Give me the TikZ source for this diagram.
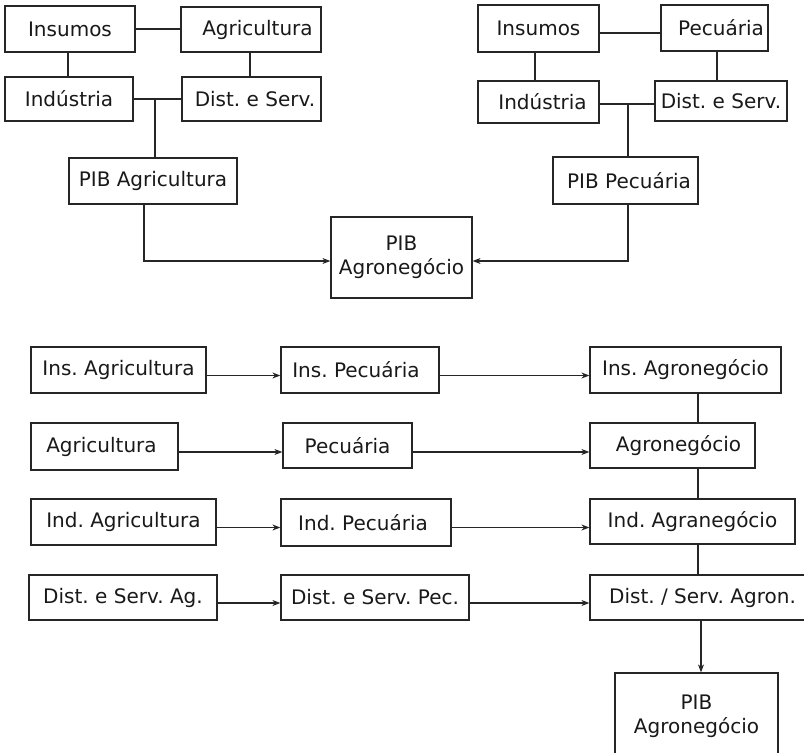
\documentclass[tikz,border=0pt]{standalone}
\usepackage{fontspec}
\setmainfont{DejaVu Sans}
\usetikzlibrary{arrows.meta}
\frenchspacing
\begin{document}
\begin{tikzpicture}[x=1pt,y=-1pt,
  box/.style={draw=black!85, line width=1.2pt, inner sep=0pt, rectangle,
    font=\fontsize{20}{24}\selectfont\frenchspacing, text=black!90, align=center},
  ln/.style={draw=black!85, line width=1.2pt},
  arr/.style={ln, -{Stealth[length=8pt,width=6pt]}}]
\useasboundingbox (0,0) rectangle (804,753);
\fill[white] (0,0) rectangle (804,753);
\clip (0,0) rectangle (804,753);
% top-left group
\node[box, minimum width=130pt, minimum height=46pt] (ins1) at (70,29) {Insumos};
\node[box, minimum width=140pt, minimum height=45pt] (agr1) at (251,29.5) {\kern13pt Agricultura};
\node[box, minimum width=128pt, minimum height=44pt] (ind1) at (69,99) {Indústria};
\node[box, minimum width=139pt, minimum height=44pt] (dist1) at (251.5,99) {\kern7pt Dist. e Serv.};
\node[box, minimum width=168pt, minimum height=46pt] (pibA) at (153,181) {PIB Agricultura};
\node[box, minimum width=141pt, minimum height=81pt] (pibAgro1) at (401.5,257.5) {PIB\\Agronegócio};
% top-right group
\node[box, minimum width=121pt, minimum height=47pt] (ins2) at (538.5,28.5) {Insumos};
\node[box, minimum width=107pt, minimum height=46pt] (pec2) at (714.5,28) {\kern13pt Pecuária};
\node[box, minimum width=121pt, minimum height=42pt] (ind2) at (538.5,102) {\kern8pt Indústria};
\node[box, minimum width=132pt, minimum height=40pt] (dist2) at (721,101) {Dist. e Serv.};
\node[box, minimum width=145pt, minimum height=47pt] (pibP) at (625.5,180.5) {\kern7pt PIB Pecuária};
% top connectors
\draw[ln] (ins1.east) -- (ins1.east -| agr1.west);
\draw[ln] ([xshift=-2pt]ins1.south) -- ([xshift=-2pt]ins1.south |- ind1.north);
\draw[ln] ([xshift=-1pt]agr1.south) -- ([xshift=-1pt]agr1.south |- dist1.north);
\draw[ln] (ind1.east) -- (ind1.east -| dist1.west);
\draw[ln] ([xshift=2pt]pibA.north |- ind1.east) -- ([xshift=2pt]pibA.north);
\draw[arr] ([xshift=-9pt]pibA.south) |- ([yshift=-3.5pt]pibAgro1.west);
\draw[ln] ([yshift=-4.5pt]ins2.east) -- ([yshift=-4.5pt]ins2.east -| pec2.west);
\draw[ln] ([xshift=-3.5pt]ins2.south) -- ([xshift=-3.5pt]ins2.south |- ind2.north);
\draw[ln] ([xshift=2.5pt]pec2.south) -- ([xshift=2.5pt]pec2.south |- dist2.north);
\draw[ln] ([yshift=-2pt]ind2.east) -- ([yshift=-2pt]ind2.east -| dist2.west);
\draw[ln] ([xshift=2.5pt,yshift=-2pt]pibP.north |- ind2.east) -- ([xshift=2.5pt]pibP.north);
\draw[arr] ([xshift=2.5pt]pibP.south) |- ([yshift=-3.5pt]pibAgro1.east);
% bottom grid
\node[box, minimum width=175pt, minimum height=46pt] (a1) at (118.5,370) {Ins. Agricultura};
\node[box, minimum width=158pt, minimum height=46pt] (b1) at (360,370) {Ins. Pecuária\kern8pt};
\node[box, minimum width=191pt, minimum height=46pt] (c1) at (685.5,370) {Ins. Agronegócio};
\node[box, minimum width=147pt, minimum height=47pt] (a2) at (104.5,446.5) {Agricultura\kern6pt};
\node[box, minimum width=129pt, minimum height=45pt] (b2) at (347.5,445.5) {Pecuária};
\node[box, minimum width=165pt, minimum height=45pt] (c2) at (672.5,445.5) {\kern12pt Agronegócio};
\node[box, minimum width=185pt, minimum height=46pt] (a3) at (123.5,522) {Ind. Agricultura};
\node[box, minimum width=170pt, minimum height=47pt] (b3) at (366,522.5) {Ind. Pecuária\kern6pt};
\node[box, minimum width=205pt, minimum height=45pt] (c3) at (692.5,521.5) {Ind. Agranegócio};
\node[box, minimum width=188pt, minimum height=45pt] (a4) at (123,597.5) {Dist. e Serv. Ag.};
\node[box, minimum width=188pt, minimum height=45pt] (b4) at (375,597.5) {Dist. e Serv. Pec.};
\node[box, minimum width=225pt, minimum height=45pt] (c4) at (702.5,597.5) {Dist. / Serv. Agron.};
\node[box, minimum width=163pt, minimum height=87pt] (pib2) at (696.5,716.5) {PIB\\Agronegócio};
% bottom connectors
\foreach \r in {1,2,3,4}{
  \draw[arr] ([yshift=-5.5pt]a\r.east) -- ([yshift=-5.5pt]a\r.east -| b\r.west);
  \draw[arr] ([yshift=-5.5pt]a\r.east -| b\r.east) -- ([yshift=-5.5pt]a\r.east -| c\r.west);
}
\coordinate (vx) at (698,0);
\coordinate (vy) at (701,0);
\draw[ln] (c1.south -| vx) -- (c2.north -| vx);
\draw[ln] (c2.south -| vx) -- (c3.north -| vx);
\draw[ln] (c3.south -| vx) -- (c4.north -| vx);
\draw[arr] (c4.south -| vy) -- (pib2.north -| vy);
\end{tikzpicture}
\end{document}
